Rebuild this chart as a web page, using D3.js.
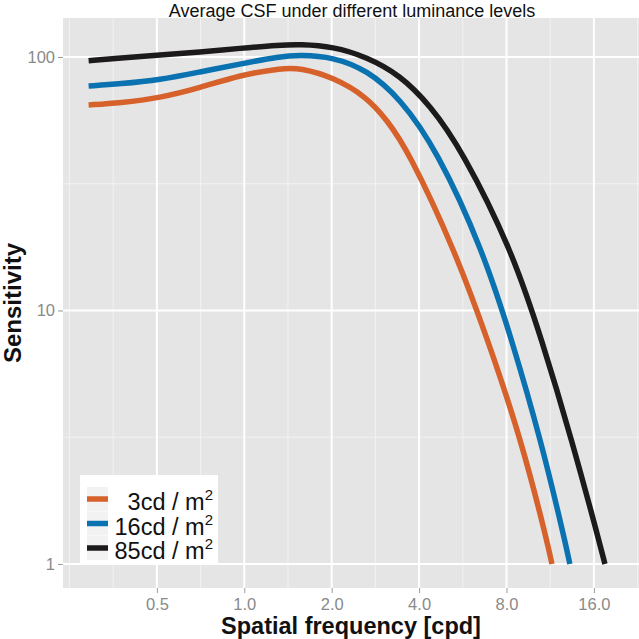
<!DOCTYPE html>
<html>
<head>
<meta charset="utf-8">
<script src="https://cdn.jsdelivr.net/npm/d3@7/dist/d3.min.js"></script>
<style>
html,body{margin:0;padding:0;background:#fff;}
svg{display:block;font-family:"Liberation Sans",Arial,Helvetica,sans-serif;}
</style>
</head>
<body>
<svg id="chart" width="639" height="639"></svg>
<script>
// ---- data ----
const seriesNames = ["3cd / m", "16cd / m", "85cd / m"];
const seriesColors = ["#D6612A", "#0A72B0", "#1C1A1B"];

const freq3  = [0.291, 0.373, 0.512, 0.703, 0.966, 1.358, 1.554, 2.02, 2.645, 3.10, 3.66, 5.31, 6.90, 9.0, 11.02, 11.47];
const sens3  = [64.7, 65.9, 68.9, 75.5, 84.9, 90.5, 90.5, 83.4, 69.5, 56.4, 42.9, 17.3, 7.65, 3.08, 1.24, 1.0];

const freq16 = [0.291, 0.373, 0.512, 0.703, 0.966, 1.326, 1.554, 2.02, 2.645, 3.435, 4.61, 6.63, 8.35, 10.51, 12.71, 13.22];
const sens16 = [76.8, 78.3, 81.2, 87.3, 93.8, 100.5, 101.8, 100.0, 88.9, 68.9, 42.9, 17.3, 7.65, 3.08, 1.24, 1.0];

const freq85 = [0.291, 0.373, 0.512, 0.703, 0.966, 1.326, 1.554, 2.02, 2.645, 3.435, 4.36, 5.62, 8.35, 10.59, 13.44, 16.65, 17.46];
const sens85 = [96.7, 99.1, 101.8, 104.6, 108.2, 111.5, 112.2, 110.0, 100.0, 84.9, 64.7, 42.9, 17.3, 7.65, 3.08, 1.24, 1.0];

const xTicks = [0.5, 1, 2, 4, 8, 16];
const xMinor = [0.25, 0.3536, 0.7071, 1.4142, 2.8284, 5.6569, 11.3137, 22.627];
const yTicks = [1, 10, 100];
const yMinor = [3.1623, 31.623];

const title = "Average CSF under different luminance levels";
const xTitle = "Spatial frequency [cpd]";
const yTitle = "Sensitivity";

// ---- layout ----
const svg = d3.select("#chart");
const P = {left: 63, right: 639, top: 18, bottom: 588};

const x = d3.scaleLog().base(2).domain([0.2375, 22.88]).range([P.left, P.right]);
const y = d3.scaleLog().domain([0.804, 142.5]).range([P.bottom, P.top]);

svg.append("rect").attr("x", P.left).attr("y", P.top)
  .attr("width", P.right - P.left).attr("height", P.bottom - P.top).attr("fill", "#E5E5E5");

const grid = svg.append("g");
grid.selectAll(".vmin").data(xMinor).enter().append("line")
  .attr("x1", d => x(d)).attr("x2", d => x(d)).attr("y1", P.top).attr("y2", P.bottom)
  .attr("stroke", "#F2F2F2").attr("stroke-width", 1);
grid.selectAll(".hmin").data(yMinor).enter().append("line")
  .attr("y1", d => y(d)).attr("y2", d => y(d)).attr("x1", P.left).attr("x2", P.right)
  .attr("stroke", "#F2F2F2").attr("stroke-width", 1);
grid.selectAll(".vmaj").data(xTicks).enter().append("line")
  .attr("x1", d => x(d)).attr("x2", d => x(d)).attr("y1", P.top).attr("y2", P.bottom)
  .attr("stroke", "#FFFFFF").attr("stroke-width", 2);
grid.selectAll(".hmaj").data(yTicks).enter().append("line")
  .attr("y1", d => y(d)).attr("y2", d => y(d)).attr("x1", P.left).attr("x2", P.right)
  .attr("stroke", "#FFFFFF").attr("stroke-width", 2);

// ---- lines ----
const series = [
  {f: freq3, s: sens3},
  {f: freq16, s: sens16},
  {f: freq85, s: sens85}
];
const line = d3.line().x(d => x(d[0])).y(d => y(d[1])).curve(d3.curveBasis);
series.forEach((sr, i) => {
  const pts = sr.f.map((f, j) => [f, sr.s[j]]);
  svg.append("path").datum(pts).attr("d", line)
    .attr("fill", "none").attr("stroke", seriesColors[i])
    .attr("stroke-width", 5.5).attr("stroke-linejoin", "round");
});

// ---- axes ----
const xAxis = svg.append("g").attr("transform", `translate(0,${P.bottom})`)
  .call(d3.axisBottom(x).tickValues(xTicks).tickFormat(d3.format(".1f")).tickSize(5).tickPadding(5));
const yAxis = svg.append("g").attr("transform", `translate(${P.left},0)`)
  .call(d3.axisLeft(y).tickValues(yTicks).tickFormat(d3.format("d")).tickSize(5).tickPadding(3));
[xAxis, yAxis].forEach(a => {
  a.select(".domain").remove();
  a.selectAll(".tick line").attr("stroke", "#9A9A9A");
  a.selectAll(".tick text").attr("fill", "#8A8A8A").style("font-size", "16.5px")
    .style("font-family", "'Liberation Sans', Arial, sans-serif");
});

// ---- titles ----
svg.append("text").attr("x", 352).attr("y", 16.5).attr("text-anchor", "middle")
  .style("font-size", "18px").attr("fill", "#111").text(title);
svg.append("text").attr("x", 351).attr("y", 634).attr("text-anchor", "middle")
  .style("font-size", "23.5px").style("font-weight", "bold").attr("fill", "#111").text(xTitle);
svg.append("text").attr("transform", `translate(21,${(P.top + P.bottom) / 2}) rotate(-90)`)
  .attr("text-anchor", "middle").style("font-size", "24px").style("font-weight", "bold")
  .attr("fill", "#111").text(yTitle);

// ---- legend ----
const lg = svg.append("g");
lg.append("rect").attr("x", 80).attr("y", 475).attr("width", 138).attr("height", 90).attr("fill", "#FFFFFF");
const rowY = [499, 523.5, 548];
seriesNames.forEach((nm, i) => {
  lg.append("rect").attr("x", 87).attr("y", rowY[i] - 12).attr("width", 21).attr("height", 24).attr("fill", "#F2F2F2");
  lg.append("line").attr("x1", 87).attr("x2", 108).attr("y1", rowY[i]).attr("y2", rowY[i])
    .attr("stroke", seriesColors[i]).attr("stroke-width", 5.5);
  const t = lg.append("text").attr("x", 213).attr("y", rowY[i] + 11).attr("text-anchor", "end")
    .style("font-size", "23.5px").attr("fill", "#111");
  t.append("tspan").text(nm);
  t.append("tspan").attr("dy", -10).style("font-size", "15px").text("2");
});
</script>
</body>
</html>
